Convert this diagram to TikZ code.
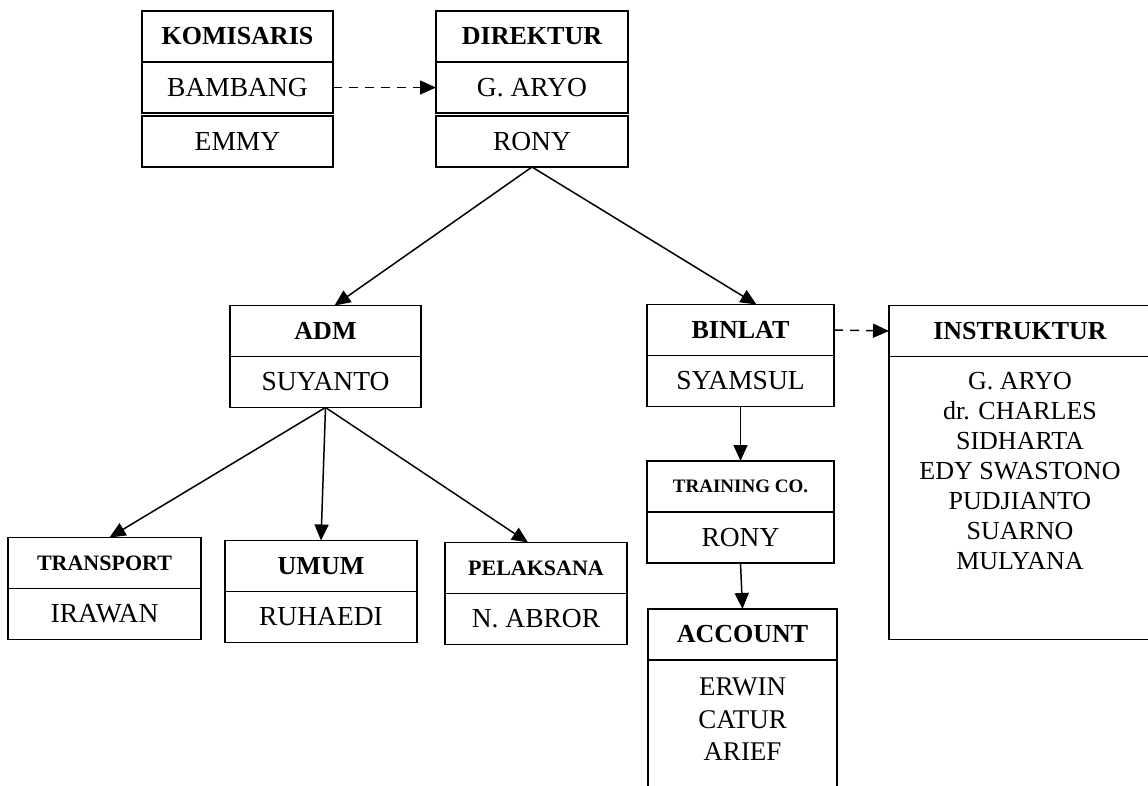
\documentclass[tikz,border=0pt]{standalone}
\usepackage{fontspec}
\setmainfont{Liberation Serif}
\usepackage{tikz}
\usetikzlibrary{positioning,arrows.meta}

\begin{document}
\begin{tikzpicture}[x=1pt, y=-1pt, line width=1.5pt, >={Triangle[length=16pt,width=14pt]},
				every node/.append style={draw, inner sep=0pt, outer sep=0pt, align=center},
				headbox/.style={minimum height=51pt, font=\fontsize{26}{31}\selectfont\bfseries},
				smallhead/.style={headbox, font=\fontsize{22}{26}\selectfont\bfseries},
				namebox/.style={minimum height=51pt, font=\fontsize{27.5}{32}\selectfont},
				listtext/.style={draw=none, font=\fontsize{26}{30}\selectfont},
				dashline/.style={->, dash pattern=on 9pt off 7pt}]
				\useasboundingbox (0,0) rectangle (1148,785);
				{
					\node (Komisaris) [headbox, minimum width=191pt] at (237.5,36.5) {KOMISARIS};
					\node (Bambang) [namebox, minimum width=191pt, below=0pt of Komisaris] {BAMBANG};
					\node (Emmy) [namebox, minimum width=191pt, below=3pt of Bambang] {EMMY};
					\node (Direktur) [headbox, minimum width=192pt] at (532,36.5) {DIREKTUR};
					\node (G aryo) [namebox, minimum width=192pt, below=0pt of Direktur] {G. ARYO};
					\node (Rony) [namebox, minimum width=192pt, below=3pt of G aryo] {RONY};
					\node (Adm) [headbox, minimum width=191pt] at (325.5,331) {ADM};
					\node (Suyanto) [namebox, minimum width=191pt, below=0pt of Adm] {SUYANTO};
					\node (Binlat) [headbox, minimum width=187pt] at (740.5,330) {BINLAT};
					\node (Syamsul) [namebox, minimum width=187pt, below=0pt of Binlat] {SYAMSUL};
					\node (Instruktur) [headbox, minimum width=262pt] at (1020,331) {INSTRUKTUR};
					\node (Instruktur body) [namebox, minimum width=262pt, minimum height=283pt, below=0pt of Instruktur] {};
					\node (Instruktur list) [listtext, below=16pt of Instruktur body.north]
						{G. ARYO\\dr. CHARLES\\SIDHARTA\\EDY SWASTONO\\PUDJIANTO\\SUARNO\\MULYANA};
					\node (Training) [headbox, minimum width=187pt, font=\fontsize{19}{23}\selectfont\bfseries] at (740.5,486.5) {TRAINING CO.};
					\node (Training rony) [namebox, minimum width=187pt, below=0pt of Training] {RONY};
					\node (Account) [headbox, minimum width=189pt] at (742.5,634.5) {ACCOUNT};
					\node (Account body) [namebox, minimum width=189pt, minimum height=150pt, below=0pt of Account] {};
					\node (Account list) [listtext, font=\fontsize{27}{32.5}\selectfont, below=18pt of Account body.north]
						{ERWIN\\CATUR\\ARIEF};
					\node (Transport) [smallhead, minimum width=193pt] at (104.5,563) {TRANSPORT};
					\node (Irawan) [namebox, minimum width=193pt, below=0pt of Transport] {IRAWAN};
					\node (Umum) [headbox, minimum width=192pt] at (321,566) {UMUM};
					\node (Ruhaedi) [namebox, minimum width=192pt, below=0pt of Umum] {RUHAEDI};
					\node (Pelaksana) [smallhead, minimum width=182pt] at (536,568) {PELAKSANA};
					\node (Abror) [namebox, minimum width=182pt, below=0pt of Pelaksana] {N. ABROR};
				}
				\draw [dashline] (Bambang.east) -- (G aryo.west);
				\draw [dashline] (Binlat.east) -- (Instruktur.west);
				\draw [->] (Rony.south) -- ([xshift=9pt]Adm.north);
				\draw [->] (Rony.south) -- ([xshift=16pt]Binlat.north);
				\draw [->] (Suyanto.south) -- ([xshift=5pt]Transport.north);
				\draw [->] (Suyanto.south) -- (Umum.north);
				\draw [->] (Suyanto.south) -- ([xshift=-8pt]Pelaksana.north);
				\draw [->] (Syamsul.south) -- (Training.north);
				\draw [->] (Training rony.south) -- (Account.north);
\end{tikzpicture}
\end{document}
